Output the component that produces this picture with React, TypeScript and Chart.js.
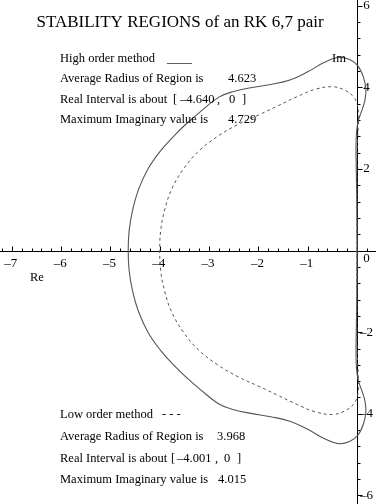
import { useEffect, useRef } from "react";
import { Chart, registerables } from "chart.js";

Chart.register(...registerables);

// Upper half of each stability-region boundary (Re, Im), from the real-axis crossing to the origin.
const highRe = [-4.64, -4.62, -4.55, -4.43, -4.24, -3.98, -3.72, -3.45, -3.18, -2.8, -2.5, -2.15, -1.75, -1.36, -1.0, -0.68, -0.385, -0.15, 0.02, 0.13, 0.18, 0.16, 0.1, 0.03, -0.01, -0.02, -0.015, -0.005, 0.0];
const highIm = [0, 0.5, 1.0, 1.5, 2.0, 2.45, 2.8, 3.12, 3.4, 3.76, 3.9, 3.99, 4.07, 4.18, 4.38, 4.6, 4.73, 4.68, 4.52, 4.25, 3.95, 3.68, 3.44, 3.2, 2.9, 2.5, 2.0, 1.2, 0];
const lowRe = [-4.001, -3.98, -3.9, -3.76, -3.52, -3.2, -2.8, -2.4, -2.0, -1.6, -1.2, -0.85, -0.49, -0.25, -0.08, 0.0, 0.03, 0.025, 0.01, 0.0, 0.0, 0.0];
const lowIm = [0, 0.5, 1.0, 1.5, 2.0, 2.45, 2.82, 3.1, 3.32, 3.55, 3.78, 3.95, 4.015, 3.93, 3.78, 3.6, 3.35, 3.05, 2.7, 2.2, 1.2, 0];

const xTickValues = [-7, -6, -5, -4, -3, -2, -1];
const yTickValues = [-6, -4, -2, 2, 4, 6];
const titleText = "STABILITY REGIONS of an RK 6,7 pair";
const infoLabels = ["Average Radius of Region is", "Real Interval is about", "Maximum Imaginary value is"];
const highName = "High order method";
const lowName = "Low order method";
const highStats = ["4.623", "\u20134.640", "4.729"];
const lowStats = ["3.968", "\u20134.001", "4.015"];

function closedCurve(re: number[], im: number[]) {
  const pts: { x: number; y: number }[] = [];
  for (let i = re.length - 1; i >= 0; i--) pts.push({ x: re[i], y: im[i] });
  for (let i = 1; i < re.length; i++) pts.push({ x: re[i], y: -im[i] });
  return pts;
}

const fmt = (v: number) => (v < 0 ? "\u2013" + Math.abs(v) : String(v));

const axesPlugin = {
  id: "mapleAxes",
  beforeDatasetsDraw(chart: any) {
    const { ctx, scales, width, height } = chart;
    const xs = scales.x;
    const ys = scales.y;
    const x0 = Math.round(xs.getPixelForValue(0)) + 0.5;
    const y0 = Math.round(ys.getPixelForValue(0)) + 0.5;
    ctx.save();
    ctx.strokeStyle = "#000";
    ctx.lineWidth = 1;
    ctx.beginPath();
    ctx.moveTo(0, y0);
    ctx.lineTo(width, y0);
    ctx.moveTo(x0, 0);
    ctx.lineTo(x0, height);
    for (let k = -72; k <= 1; k++) {
      const v = k * 0.2;
      if (k === 0) continue;
      const px = Math.round(xs.getPixelForValue(v)) + 0.5;
      const major = k % 5 === 0;
      ctx.moveTo(px, y0);
      ctx.lineTo(px, y0 - (major ? 5 : 3));
    }
    for (let k = -15; k <= 15; k++) {
      const v = k * 0.4;
      if (k === 0) continue;
      const py = Math.round(ys.getPixelForValue(v)) + 0.5;
      const major = k % 5 === 0;
      ctx.moveTo(x0, py);
      ctx.lineTo(x0 + (major ? 5 : 3), py);
    }
    ctx.stroke();

    ctx.fillStyle = "#000";
    ctx.font = '13px "Liberation Serif", "DejaVu Serif", serif';
    ctx.textBaseline = "middle";
    ctx.textAlign = "center";
    xTickValues.forEach((v) => {
      ctx.fillText(fmt(v), xs.getPixelForValue(v) - 1, y0 + 12);
    });
    yTickValues.forEach((v) => {
      ctx.fillText(fmt(v), x0 + 9, ys.getPixelForValue(v));
    });
    ctx.fillText("0", x0 + 9, y0 + 7);
    ctx.restore();
  },
  afterDraw(chart: any) {
    const { ctx } = chart;
    ctx.save();
    ctx.fillStyle = "#000";
    ctx.textBaseline = "alphabetic";
    ctx.textAlign = "center";
    ctx.font = '17px "Liberation Serif", "DejaVu Serif", serif';
    ctx.fillText(titleText, 180, 27);
    ctx.textAlign = "left";
    ctx.font = '12.5px "Liberation Serif", "DejaVu Serif", serif';

    const block = (name: string, mark: string, markX: number, stats: string[], ys: number[], cols: number[]) => {
      ctx.fillText(name, 60, ys[0]);
      ctx.fillText(mark, markX, ys[0]);
      infoLabels.forEach((t, i) => ctx.fillText(t, 60, ys[i + 1]));
      ctx.fillText(stats[0], cols[0], ys[1]);
      ctx.fillText("[", cols[1], ys[2]);
      ctx.fillText(stats[1], cols[2], ys[2]);
      ctx.fillText(",", cols[3], ys[2]);
      ctx.fillText("0", cols[4], ys[2]);
      ctx.fillText("]", cols[5], ys[2]);
      ctx.fillText(stats[2], cols[6], ys[3]);
    };
    block(highName, "____", 167, highStats, [61.5, 82, 102.5, 123], [228, 173, 180, 217, 229, 242, 228]);
    block(lowName, "- - -", 162, lowStats, [418, 440, 462, 483], [217, 171, 177, 215, 224, 237, 218]);

    ctx.fillText("Re", 30, 281);
    ctx.fillText("Im", 332, 62);
    ctx.restore();
  },
};

export default function App() {
  const ref = useRef<HTMLCanvasElement | null>(null);
  useEffect(() => {
    document.body.style.margin = "0";
    const canvas = ref.current;
    if (!canvas) return;
    const chart = new Chart(canvas, {
      type: "scatter",
      data: {
        datasets: [
          {
            label: highName,
            data: closedCurve(highRe, highIm),
            showLine: true,
            borderColor: "#555",
            borderWidth: 1.1,
            pointRadius: 0,
            tension: 0.4,
            fill: false,
          },
          {
            label: lowName,
            data: closedCurve(lowRe, lowIm),
            showLine: true,
            borderColor: "#555",
            borderWidth: 1,
            borderDash: [3, 3],
            pointRadius: 0,
            tension: 0.4,
            fill: false,
          },
        ],
      },
      options: {
        animation: false,
        responsive: false,
        maintainAspectRatio: false,
        devicePixelRatio: 1,
        layout: { padding: 0 },
        plugins: { legend: { display: false }, tooltip: { enabled: false }, title: { display: false } },
        scales: {
          x: { type: "linear", min: -7.24, max: 0.385, display: false },
          y: { type: "linear", min: -6.21, max: 6.14, display: false },
        },
      },
      plugins: [axesPlugin],
    });
    return () => chart.destroy();
  }, []);
  return <canvas ref={ref} width={376} height={504} style={{ display: "block" }} />;
}
